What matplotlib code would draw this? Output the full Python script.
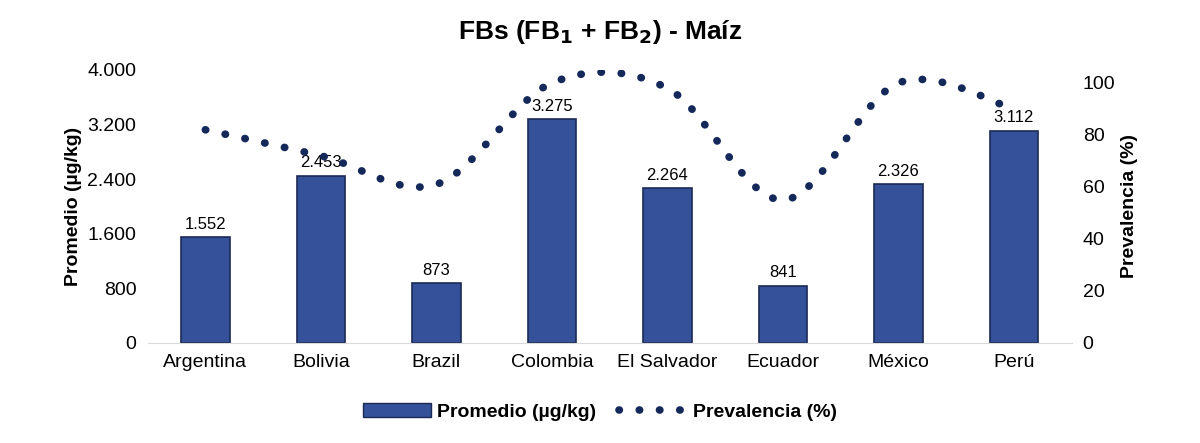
import numpy as np
import matplotlib.pyplot as plt
from matplotlib.lines import Line2D
from matplotlib.patches import Patch

countries = ["Argentina", "Bolivia", "Brazil", "Colombia", "El Salvador", "Ecuador", "México", "Perú"]
promedio = [1552, 2453, 873, 3275, 2264, 841, 2326, 3112]
prevalencia = [82, 72, 61, 100, 98, 55, 100, 90]


def smooth(xs, ys, n=60):
    # Excel-like smoothed line (cubic Bezier through points)
    xs, ys = np.asarray(xs, float), np.asarray(ys, float)
    px, py = [], []
    m = len(xs)
    for i in range(m - 1):
        x0, y0 = xs[max(i - 1, 0)], ys[max(i - 1, 0)]
        x3, y3 = xs[min(i + 2, m - 1)], ys[min(i + 2, m - 1)]
        c1 = (xs[i] + (xs[i + 1] - x0) / 6, ys[i] + (ys[i + 1] - y0) / 6)
        c2 = (xs[i + 1] - (x3 - xs[i]) / 6, ys[i + 1] - (y3 - ys[i]) / 6)
        t = np.linspace(0, 1, n, endpoint=False)
        a, b, c, d = (1 - t) ** 3, 3 * t * (1 - t) ** 2, 3 * t ** 2 * (1 - t), t ** 3
        px.append(a * xs[i] + b * c1[0] + c * c2[0] + d * xs[i + 1])
        py.append(a * ys[i] + b * c1[1] + c * c2[1] + d * ys[i + 1])
    px.append([xs[-1]]); py.append([ys[-1]])
    return np.concatenate(px), np.concatenate(py)


plt.rcParams["font.family"] = "Liberation Sans"
fig = plt.figure(figsize=(12, 4.43), dpi=100)
ax = fig.add_axes([0.123, 0.226, 0.77, 0.616])
x = np.arange(len(countries))
ax.bar(x, promedio, width=0.42, color="#34519A", edgecolor="#1B2A55", linewidth=1.2)
for xi, v in zip(x, promedio):
    ax.text(xi, v + 80, f"{v:,}".replace(",", "."), ha="center", va="bottom", fontsize=12)
ax.set_ylim(0, 4000)
ax.set_xlim(-0.5, 7.5)
ax.set_yticks(np.arange(0, 4001, 800))
ax.set_yticklabels([f"{v:,}".replace(",", ".") for v in range(0, 4001, 800)], fontsize=14)
ax.set_xticks(x)
ax.set_xticklabels(countries, fontsize=14)
ax.tick_params(length=0, pad=8)
for s in ["top", "left", "right"]:
    ax.spines[s].set_visible(False)
ax.spines["bottom"].set_color("#D9D9D9")
ax.set_ylabel("Promedio (µg/kg)", fontsize=14, fontweight="bold")

ax2 = ax.twinx()
sx, sy = smooth(x, prevalencia)
ax2.plot(sx, sy, color="#14285A", lw=5.5, ls=(0, (0.05, 2.6)), dash_capstyle="round")
ax2.set_ylim(0, 105)
ax2.set_yticks(np.arange(0, 101, 20))
ax2.tick_params(length=0, labelsize=14, pad=8)
for s in ["top", "left", "right", "bottom"]:
    ax2.spines[s].set_visible(False)
ax2.set_ylabel("Prevalencia (%)", fontsize=14, fontweight="bold")

fig.suptitle(r"FBs (FB$_\mathbf{1}$ + FB$_\mathbf{2}$) - Maíz", fontsize=19, fontweight="bold", y=0.96)

handles = [Patch(facecolor="#34519A", edgecolor="#1B2A55"),
           Line2D([0], [0], color="#14285A", lw=5.5, ls=(0, (0.05, 2.6)), dash_capstyle="round")]
fig.legend(handles, ["Promedio (µg/kg)", "Prevalencia (%)"], loc="lower center", ncol=2,
           frameon=False, bbox_to_anchor=(0.5, 0.01), prop={"size": 14, "weight": "bold"},
           handlelength=3.5, columnspacing=1.2, handletextpad=0.3)
fig.savefig("out.png")
